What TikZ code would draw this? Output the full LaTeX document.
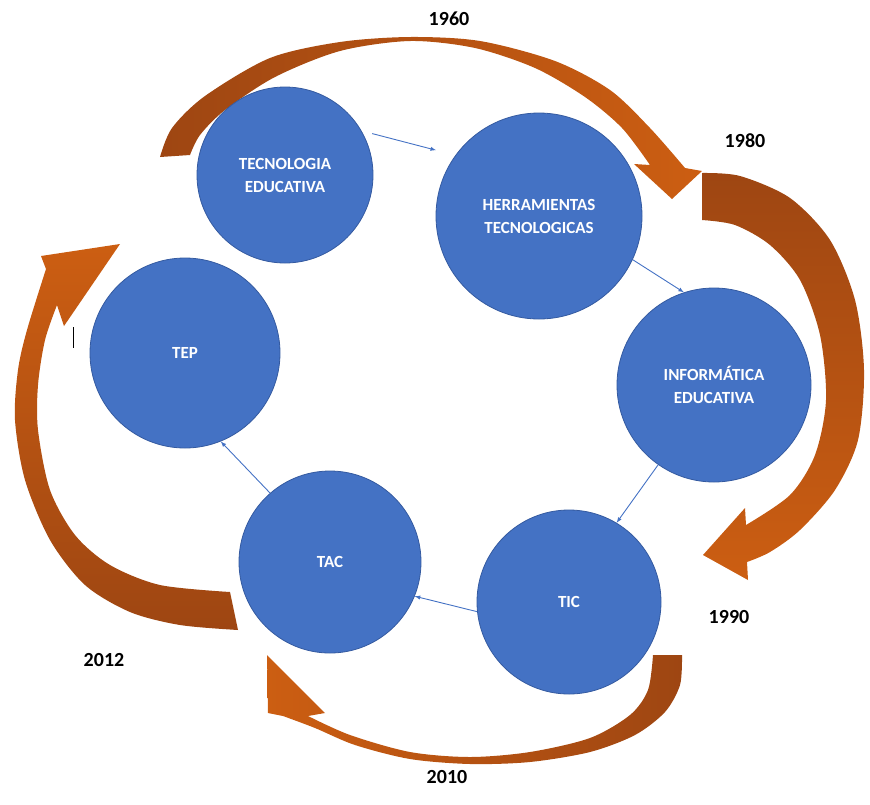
\documentclass[tikz,border=0pt]{standalone}
\usepackage{fontspec}
\setmainfont{Carlito}
\usepackage{tikz}
\usetikzlibrary{shapes, arrows, positioning, calc}
\definecolor{azul}{RGB}{68,114,196}
\definecolor{azulborde}{RGB}{52,90,160}
\definecolor{naranja}{RGB}{204,94,18}
\definecolor{cafe}{RGB}{158,70,18}

\begin{document}
\begin{tikzpicture}[x=1pt, y=-1pt,
    etapa/.style={circle, fill=azul, draw=azulborde, line width=0.8pt, text=white,
      font=\fontsize{17}{23}\selectfont\bfseries, align=center, inner sep=0pt},
    enlace/.style={->, >=latex, azul, line width=0.9pt},
    anio/.style={font=\fontsize{20}{24}\selectfont\bfseries}]
    \useasboundingbox (0,0) rectangle (870,804);

    \shade[left color=cafe, right color=naranja]
      plot[smooth] coordinates {(160,157) (172,128) (205,96) (270,58) (340,42) (410,37)
        (480,41) (555,61) (610,90) (650,128) (685,168)}
      -- (702,171) -- (672,199) -- (634,164)
      -- plot[smooth] coordinates {(650,165) (622,128) (585,97) (535,68) (475,48)
        (410,41) (340,51) (275,77) (225,110) (200,135) (190,155)} -- cycle;
    \shade[top color=cafe, bottom color=naranja]
      plot[smooth] coordinates {(702,173) (740,176) (790,198) (830,240) (855,300)
        (864,370) (858,440) (835,490) (800,530) (770,552) (747,562)}
      -- (748,580) -- (703,555) -- (745,508)
      -- plot[smooth] coordinates {(746,525) (790,495) (815,455) (826,400) (820,335)
        (800,280) (770,245) (735,225) (702,220)} -- cycle;
    \shade[right color=cafe, left color=naranja]
      plot[smooth] coordinates {(682,655) (680,685) (665,712) (635,735) (590,752)
        (530,762) (470,764) (410,759) (355,745) (315,728) (283,716)}
      -- (268,713) -- (267,655) -- (325,713)
      -- plot[smooth] coordinates {(308,716) (350,735) (410,752) (470,757) (530,752)
        (590,738) (630,715) (648,690) (653,655)} -- cycle;
    \shade[bottom color=cafe, top color=naranja]
      plot[smooth] coordinates {(238,630) (180,625) (130,612) (85,585) (50,540)
        (25,480) (15,420) (18,370) (27,330) (46,269)}
      -- (41,256) -- (120,244) -- (64,326)
      -- plot[smooth] coordinates {(57,305) (45,340) (38,385) (38,430) (50,490)
        (75,535) (110,565) (160,585) (230,592)} -- cycle;

    \node[etapa, minimum size=176pt] (tecno) at (285,175) {TECNOLOGIA\\EDUCATIVA};
    \node[etapa, minimum size=206pt] (herram) at (539,216) {HERRAMIENTAS\\TECNOLOGICAS};
    \node[etapa, minimum size=194pt] (informa) at (714,385) {INFORMÁTICA\\EDUCATIVA};
    \node[etapa, minimum size=184pt] (tic) at (569,602) {TIC};
    \node[etapa, minimum size=182pt] (tac) at (330,562) {TAC};
    \node[etapa, minimum size=190pt] (tep) at (185,353) {TEP};

    \draw[enlace, shorten <=11pt, shorten >=20pt] (tecno.30) -- (herram.144);
    \draw[enlace] (herram.-25) -- (informa.108);
    \draw[enlace] (informa.-125) -- (tic.59);
    \draw[enlace] (tic.186) -- (tac.-22);
    \draw[enlace] (tac.131) -- (tep.-68);

    \node[anio] (a1960) at (449,19) {1960};
    \node[anio] (a1980) at (745,141) {1980};
    \node[anio] (a1990) at (729,617) {1990};
    \node[anio] (a2010) at (447,777) {2010};
    \node[anio] (a2012) at (104,660) {2012};

    \draw[line width=1pt] (73,327) -- (73,348);
  \end{tikzpicture}
\end{document}
